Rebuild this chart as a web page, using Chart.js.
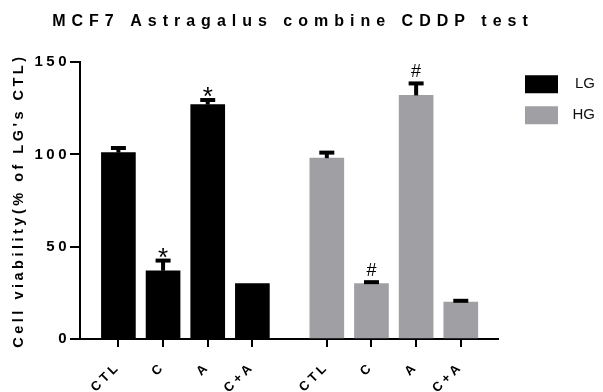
<!DOCTYPE html>
<html>
<head>
<meta charset="utf-8">
<title>MCF7 Astragalus combine CDDP test</title>
<script src="https://cdn.jsdelivr.net/npm/chart.js@4.4.1/dist/chart.umd.min.js"></script>
<style>
  html, body { margin: 0; padding: 0; background: #fff; }
  #wrap { width: 603px; height: 392px; }
</style>
</head>
<body>
<div id="wrap"><canvas id="viability"></canvas></div>
<script>
// treatments per glucose group
const treatments = ['CTL', 'C', 'A', 'C+A'];
const lgValues = [101, 37, 127, 30];
const lgErrors = [2.5, 5.5, 2.5, 0];
const lgMarks = ['', '*', '*', ''];
const hgValues = [98, 30, 132, 20];
const hgErrors = [3, 0.8, 6.5, 0.7];
const hgMarks = ['', '#', '#', ''];
const yTicks = [0, 50, 100, 150];

const FONT = "'Liberation Sans', Arial, sans-serif";
const GREY = '#a09fa4';

// HG block sits after the LG block with an extra 2/3 slot between them
const lgX = treatments.map((_, i) => i + 1);
const hgX = treatments.map((_, i) => i + 1 + treatments.length + 2 / 3);
const xLabels = treatments.concat(treatments);

Chart.defaults.color = '#000';
Chart.defaults.font.family = FONT;

// canvas letter spacing: wide title, plain legend, a bit for the axes
function spaced(box, px) {
  if (!box || box._spaced) return;
  const draw = box.draw.bind(box);
  box.draw = (area) => {
    const ctx = box.ctx;
    const prev = ctx.letterSpacing;
    ctx.letterSpacing = px;
    draw(area);
    ctx.letterSpacing = prev;
  };
  box._spaced = true;
}

const letterSpacing = {
  id: 'letterSpacing',
  beforeDraw(chart) {
    spaced(chart.titleBlock, '6px');
    spaced(chart.legend, '0px');
    chart.ctx.letterSpacing = '3.5px';
  },
  afterDraw(chart) {
    chart.ctx.letterSpacing = '0px';
  }
};

// one-sided error bars plus the significance marks above them
const errorBars = {
  id: 'errorBars',
  afterDatasetsDraw(chart) {
    const { ctx, scales: { y } } = chart;
    ctx.save();
    ctx.letterSpacing = '0px';
    chart.data.datasets.forEach((ds, di) => {
      chart.getDatasetMeta(di).data.forEach((bar, i) => {
        const err = ds.errors[i];
        const base = y.getPixelForValue(ds.data[i].y);
        const tip = y.getPixelForValue(ds.data[i].y + err);
        if (err > 0) {
          ctx.strokeStyle = '#000';
          ctx.lineWidth = 4;
          ctx.beginPath();
          ctx.moveTo(bar.x, base);
          ctx.lineTo(bar.x, tip);
          ctx.stroke();
          ctx.beginPath();
          ctx.moveTo(bar.x - 7.5, tip);
          ctx.lineTo(bar.x + 7.5, tip);
          ctx.stroke();
        }
        const mark = ds.marks[i];
        if (mark) {
          ctx.fillStyle = '#000';
          ctx.textAlign = 'center';
          ctx.textBaseline = 'alphabetic';
          if (mark === '*') {
            ctx.font = '26px ' + FONT;
            ctx.fillText(mark, bar.x, tip + 5);
          } else {
            ctx.font = '18px ' + FONT;
            ctx.fillText(mark, bar.x, tip - 6);
          }
        }
      });
    });
    ctx.restore();
  }
};

const axisGrid = (len) => ({
  display: true,
  offset: false,
  drawOnChartArea: false,
  drawTicks: true,
  tickLength: len,
  tickColor: '#000',
  tickWidth: 2,
  color: '#000',
  lineWidth: 2
});

new Chart(document.getElementById('viability'), {
  type: 'bar',
  data: {
    datasets: [
      {
        label: 'LG',
        data: lgValues.map((v, i) => ({ x: lgX[i], y: v })),
        errors: lgErrors,
        marks: lgMarks,
        backgroundColor: '#000',
        borderWidth: 0,
        barThickness: 34,
        grouped: false,
        yAxisID: 'y'
      },
      {
        label: 'HG',
        data: hgValues.map((v, i) => ({ x: hgX[i], y: v })),
        errors: hgErrors,
        marks: hgMarks,
        backgroundColor: GREY,
        borderWidth: 0,
        barThickness: 34,
        grouped: false,
        yAxisID: 'y'
      }
    ]
  },
  options: {
    responsive: true,
    maintainAspectRatio: false,
    animation: false,
    // the title centres on the padded width, so the left edge is pulled out a little
    layout: { padding: { left: -9, right: 8, top: 0, bottom: 0 } },
    plugins: {
      title: {
        display: true,
        text: 'MCF7 Astragalus combine CDDP test',
        font: { size: 16, weight: 'bold' },
        color: '#000',
        padding: { top: 12, bottom: 31 }
      },
      legend: {
        position: 'right',
        align: 'start',
        fullSize: false,
        maxWidth: 83,
        labels: {
          boxWidth: 33,
          boxHeight: 18,
          padding: 13,
          color: '#111',
          textAlign: 'right',
          font: { size: 15 }
        }
      },
      tooltip: { enabled: false }
    },
    scales: {
      x: {
        type: 'linear',
        offset: false,
        min: 0.14,
        max: 9.5,
        afterBuildTicks(scale) {
          scale.ticks = lgX.concat(hgX).map(value => ({ value }));
        },
        afterFit(scale) { scale.height = 53; },
        ticks: {
          autoSkip: false,
          minRotation: 45,
          maxRotation: 45,
          padding: 12,
          font: { size: 13, weight: 'bold' },
          callback: (value, index) => xLabels[index]
        },
        grid: axisGrid(8),
        border: { display: true, color: '#000', width: 2 }
      },
      y: {
        min: 0,
        max: 150,
        afterBuildTicks(scale) {
          scale.ticks = yTicks.map(value => ({ value }));
        },
        afterFit(scale) { scale.width = 89; },
        ticks: {
          padding: 0,
          font: { size: 15, weight: 'bold' }
        },
        grid: axisGrid(10),
        border: { display: true, color: '#000', width: 2 },
        title: {
          display: true,
          text: "Cell viability(% of LG's CTL)",
          font: { size: 14.5, weight: 'bold' },
          padding: { top: 19, bottom: 0 }
        }
      },
      gap: {
        type: 'linear',
        position: 'right',
        display: true,
        grid: { display: false },
        border: { display: false },
        ticks: { display: false },
        afterFit(scale) { scale.width = 14; }
      }
    }
  },
  plugins: [letterSpacing, errorBars]
});
</script>
</body>
</html>
